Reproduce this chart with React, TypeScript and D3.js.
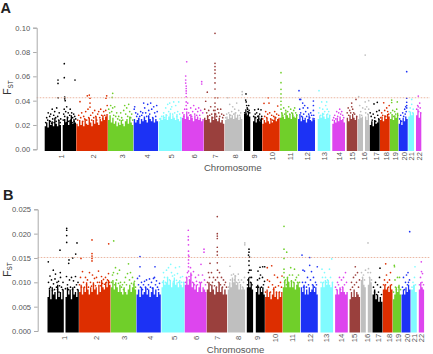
import React, { useEffect, useRef } from 'react';
import * as d3 from 'd3';

// genome position runs 0..377 along the x axis, FST values are stored x1000
const chromNames = ['1','2','3','4','5','6','7','8','9','10','11','12','13','14','15','16','17','18','19','20','21','22'];
const tickPos = [17,48.6,77.3,103,126.6,149.3,170.3,191,209.6,227.6,245.3,262.6,279.3,294.3,307.3,319.6,331.3,341.6,351,359.6,367,374.3];
const palette = ['#000000','#dd2f00','#70cf2c','#1f33f5','#80fbff','#dd45ee','#9a3f3c','#bfbfbf'];

// one entry per contiguous stretch, chr 1, 9 and 16 are split at the centromere
const segChrom = [0,0,1,2,3,4,5,6,7,8,8,9,10,11,12,13,14,15,15,16,17,18,19,20,21];
const segStart = [0,18,31.6,63.3,89,114,137.3,159.3,180.3,199.3,208.3,217.6,235.3,253.3,273,287.6,302,313.3,320.3,325,335.3,345.3,354,363.6,371.3];
const segEnd = [16.3,31.3,63,88.6,113.3,137,159,179.6,197.6,205.6,217.3,235,252.6,270.3,285.6,300.3,312.6,318.3,324.3,335,345,353.6,363,369.3,376.6];

// height of the packed SNP columns along each stretch
const bodyA = [
  [19,22,18,24,20,23,19,26,21,19,24,20],
  [20,25,22,27,20,24,28,21,25,22],
  [21,19,24,20,23,19,25,21,20,26,22,19,24,21,27,22,20,25,23,28,24,27,29],
  [24,28,22,26,21,23,19,22,20,24,21,19,23,25,21,27,22,20],
  [25,22,24,26,21,25,23,27,24,22,28,25,23,26,22,25,23],
  [23,26,24,28,25,29,24,27,30,25,28,26,24,29,25,23,26],
  [26,29,25,31,27,24,29,26,23,28,25,27,24,26,23,25],
  [26,24,28,25,22,27,24,30,25,23,26,22,24,21],
  [24,27,25,29,26,28,25,30,26,28,24,27,25],
  [29,33,28,31,27],
  [23,27,22,25,28,23,26],
  [21,24,22,26,23,21,25,22,24,27,23,25,26],
  [26,30,27,25,31,28,26,29,25,30,27,26,29],
  [25,29,23,27,24,26,22,25,28,24,23,26,24],
  [25,28,26,30,27,25,29,26,28],
  [21,24,22,26,23,27,24,25,22],
  [26,23,28,25,29,26,24,27],
  [25,29,26,27],
  [27,24,29],
  [20,23,19,24,21,22,25],
  [24,27,23,28,25,29,27],
  [25,29,24,28,26,30],
  [21,24,20,26,23,27,25],
  [27,31,28,30],
  [28,33,26,30],
];
const bodyB = [
  [7,8.5,6.5,9,7.5,8,6.5,9.5,7,8,6.5,8.5],
  [7,9,7.5,8.5,6.5,9,7.5,8,7,8.5],
  [8,9.5,7.5,9,8,10,8.5,7.5,9,8,10,8.5,9,7.5,9.5,8,10.5,9,8.5,10,9,10.5,9.5],
  [9,10.5,8.5,10,9,8,9.5,8,7.5,9,8,7.5,8.5,9.5,8,9,10,8.5],
  [7.5,8.5,7,9,7.5,8,9,7.5,8.5,7,8,9,7.5,8.5,7,8,7.5],
  [9,10.5,9.5,10,11,9.5,10.5,9,10,11,9.5,10,9,10.5,9.5,9,10],
  [9.5,11,9.5,10.5,12,9,10,8.5,9.5,8,9,10,8,9,8.5,8],
  [8.5,10,8,9.5,8.5,7.5,9,8,10,8,9,7.5,8.5,7.5],
  [8.5,10,9,11,10,11.5,9.5,10,8.5,9.5,8.5,9,8.5],
  [9,11,9,10,8.5],
  [8,9.5,7.5,9,8,9,7.5],
  [7,8.5,7,8,6.5,7.5,9,7,8,6.5,8,7,8],
  [9,10.5,9,11,10,9,10.5,9,10,8.5,9.5,10,9],
  [9,8,9.5,7.5,8.5,7.5,9,8,8.5,9.5,8,9,7.5],
  [9,10,9,10.5,9.5,10.5,9.5,9,10],
  [7.5,8.5,7.5,9,8,9,8,7.5,8],
  [6.5,8,7,8.5,7,8,7.5,7],
  [10.5,11,9.5,9],
  [9.5,11,10],
  [7.5,8.5,6.5,7.5,6,7,6],
  [8.5,9.5,8.5,9,8,9.5,8.5],
  [6.5,7.5,9,8,9.5,7.5],
  [7.5,8.5,7.5,9,8,9.5,8.5],
  [8.5,9.5,8],
  [8.5,10,9,8.5],
];

const pointsA = [
  [1,22],[2,26],[3,24],[3.5,30],[5,27],[5.5,23],[6,29],[7,21.5],[7.5,33],[8,25],[9,28],[9.5,22],[10,31],[11,26],[11.5,23],[12,34],[13,27],[13.3,57],[13.3,54.2],[13.5,42.4],[14,24],[14.5,30],[15.5,22],[16,25],
  [18.5,24],[19,29],[19.5,33],[19.6,70.4],[19.6,58.9],[20,43],[20,41.5],[20.5,40],[20,27],[21,31],[21.5,22],[22,35],[23,26],[23.5,30],[24,23],[25,28],[25.5,33],[26,24],[27,30],[27.5,22],[28,26],[29,29],[29.5,23],[30,27],[30.3,57],[31,25],
  [33,24],[34,28],[35.3,39.2],[36,26],[37,30],[38,23],[39,27],[40,25],[41,31],[42,24],[42.6,44],[43.3,33],[44,26],[44.6,44.6],[45.3,42],[45.3,38],[45.3,34.7],[46,28],[47,24],[48,30],[49,26],[50,32],[51,27],[52,24],[53,29],[54,31],[55,26],[56,33],[57,28],[58,25],[59,31],[60,28],[61,32],[61.3,42],[62,44],[62.5,36],
  [64,33],[65,30],[66,36],[67,31],[68,46],[68,34],[67.5,42.7],[69,28],[70,35],[71,27],[72,30],[73,25],[74,27],[75,24],[76,30],[77,26],[78,24],[79,32],[80,36],[81,29],[82,34],[83,27],[84,37],[85,31],[86,26],[87,29],[88,24],
  [89.5,33],[90,35],[91,30],[92,27],[93,29],[94,25],[95,27],[96,31],[97,28],[98,30],[99,38],[100,34],[101,30],[102,27],[103,37],[104,32],[105,29],[106,38],[107,33],[108,26],[109,35],[110,30],[111,27],[112,36],[112.5,31],
  [115,25],[117,27],[119,30],[120,26],[121,34],[122,28],[123,37],[124,31],[125,38],[126,33],[127,35],[128,29],[129,39],[130,30],[131,36],[132,27],[133,31],[134,39],[135,29],[136,26],
  [138,30],[139,27],[140,33],[141,60.3],[141,57],[141,54.5],[142,72],[141.5,52],[141.5,50],[141.5,48],[141.5,46],[141.5,43.2],[141.5,39],[141.5,36],[142,33],[143,38],[144,30],[145,28],[146,34],[147,27],[148,31],[149,36],[150,29],[151,33],[152,28],[153,31],[154,34],[155,28],[156,32],[157,55.6],[157,53.7],[158,30],
  [160,33],[161,39.5],[162,30],[162.6,47],[163,27],[164,32],[165,28],[166,35],[167,29],[168,26],[169,32],[170.3,95.4],[170.3,70.7],[170.3,68],[170.3,65.3],[170.3,62.5],[170.3,58.7],[170.3,54.6],[170.3,49.6],[170.3,42.4],[170.3,38],[170.3,35],[170.3,32],[171,29],[172,27],[173,42.4],[173,33],[174,30],[175,27],[176,33],[177,29],[178,26],[179,28],
  [181,26],[182,29],[183,42.4],[184,30],[185,37],[186,28],[187,31],[188,35],[189,29],[190,33],[191,30],[192,38],[193,28],[194,32],[195,28],[196,30],[197.5,47.4],[197.5,45],
  [200,30],[201.3,45.5],[201,40.5],[201.5,39],[202,36],[202.5,34],[203,33],[203,31],[204,36],[204.5,32],[205,30],[201.5,29],[203.5,28],
  [209,27],[210,32.5],[210.5,29],[211,26],[212,30],[213,27],[213.6,33],[214,25],[215,29],[216,24],[216.3,32.5],[217,27],
  [218,25],[219.3,37.8],[220,27],[221,31],[222,26],[223,29],[223.6,42.4],[224.3,38],[225,30],[226,25],[227,28],[228,24],[229,27],[230,31],[231,26],[232,29],[233,35.6],[234,28],
  [236.3,63],[236.3,54.8],[236.3,49.3],[236.3,45.5],[236.3,42.4],[236.3,39.5],[236.3,36.6],[236.3,33],[237,30],[238,28],[239,34],[240,29],[241,32],[242,27],[243,31],[244,35],[245,29],[246,33],[247,30],[248,28],[249,32],[250,34],[251,30],[252,28],
  [254.3,48.2],[255,41],[255,33],[256,41],[256,30],[257,27],[258,38],[258.5,34],[259,29],[260,36],[261,31],[262,27],[263,34],[264,29],[265,26],[266,30],[267,28],[268.7,39.7],[268.7,36],[268.7,32],[269,28],[269.5,25],
  [274,30],[274.3,48.2],[275,34],[276,28],[277,39],[278,33],[279,29],[280,31],[281,36],[282,39],[282.5,33],[283,29],[284,31],[285,28],
  [288,24],[289,26],[290,28],[291,25],[292,31],[293,27],[294,30],[295,33],[296,29],[297,31],[298,28],[299,26],
  [302.5,30],[303.5,34],[304,28],[305,32],[306,30],[307,35],[307,38],[308,33],[309,30],[310,29],[311.3,41],[312,27],
  [314,43.3],[315,36],[316,31],[317,28],[318,34],[320.5,33],[321,30],[322,35],[323,29],[324,40],[324,33],[320.5,77.5],[320.5,39],
  [325.5,30],[326.5,27],[327.5,24],[328.5,29],[329.3,37.3],[330,26],[331,23],[332,31],[332.6,38.6],[333,28],[334,25],[334.5,32],
  [336,26],[337,30],[338,28],[339,38.3],[340,32],[341,27],[342,34],[343,31],[344,29],[344.5,36],
  [346,30],[347,40.5],[347,38.5],[348,32],[349,27],[350,31],[351,29],[352,33],[352.6,39],[353,28],
  [355,25],[356,28],[357,23],[358,30],[359,27],[360,33],[360.5,29],[361,35],[361.5,31],[362,63.8],[362,42],[362,38.7],[362,36],[362,34],
  [364.5,31],[365.5,34],[367,41],[367,37],[368,30],[368.5,33],
  [372,33],[373,36],[373.6,43.8],[373.6,35],[374,31],[375,38],[375.5,34],[376,30],
];

const pointsB = [
  [0.8,14.2],[1,10],[2,8.7],[2.5,11.3],[3,9],[4,10.5],[5,8.3],[5.8,12.5],[6,9.7],[7,8.5],[7.5,10.7],[8,11.7],[9,9],[9.5,10],[10,8.5],[11,10.2],[11.5,8],[12,9.3],[12.5,16.6],[12.8,12],[13,11],[14,9],[15,8.5],[15.5,10],
  [18,8.7],[19,11.2],[19.2,21.1],[19.2,20.7],[19.2,19.6],[19.2,18.2],[20,9.5],[21,8.5],[21.5,14.6],[21.2,13.9],[22,10.5],[23,9],[24,11],[25,8.5],[25.2,15],[26,10.3],[27,9],[28,11.2],[28.2,15.8],[29,9.5],[29.5,18.1],[30,8.5],[30.5,10],
  [32,9.5],[33,11],[33.5,14.9],[34,9],[35,12.2],[36,10],[37,9],[38,11],[39,9.5],[40,10.5],[41,9],[42,12],[43,10],[44,9.2],[44.5,18.7],[44.5,15.9],[44.5,15.4],[44.5,14.9],[44.5,14.4],[45,11.5],[46,9.5],[47,10.8],[48,9.3],[49,11],[50,10],[51,12.3],[52,10],[53,9.3],[54,11.2],[55,9.8],[56,10.6],[57,9.6],[58,11],[59,10],[60,10.5],[61.2,17.9],[61,11.8],[62,10],
  [64,10],[65,11.5],[66.2,18.5],[66,12],[67,9.5],[68,13],[69,10.5],[70,11.8],[71,9.8],[72,12.5],[73,10],[74,9],[75,9.5],[76,8.5],[77,10],[78,11],[79,9.5],[80,11.8],[81,13.8],[82,10.5],[83,12],[84,9.8],[85,11],[86,9.5],[87,10.2],[88,9],
  [90,10.8],[91,9.5],[92,11.3],[92.5,15.3],[92.5,13.2],[93,9],[94,10],[95,8.5],[96,9.5],[97,10.2],[98,9],[99,10.5],[100,8.6],[101,9.5],[102,10.7],[103,9],[104,10],[105,8.8],[106,10.8],[107.5,13.2],[107,11],[108,9.5],[109,10.3],[110,9],[111,8.5],[112,9.8],
  [115,10],[116,12],[117,11],[118,10],[119,12.5],[120,11],[121,13],[122,10.5],[123.2,13.7],[124,12],[125,11.3],[126,10.2],[127,11.5],[128,13],[129,10.4],[130,11.8],[131,10],[132,13.2],[133,11],[134,10],[135,11.2],[136,10],
  [138,10],[139,11],[140,12],[140.8,20.7],[140.8,19.4],[140.8,18.7],[141,17.7],[141,16.4],[141,15.6],[141.5,15.3],[141,14.6],[141,13.9],[141,13.2],[141,12.3],[141.5,11.2],[142,10.5],[143,13],[144,11.5],[145,10],[146,12.2],[147,9.5],[148,11],[149,10.2],[150,9.5],[151,11.5],[152,10],[153.5,13.7],[154,10],[155,11.5],[156.5,16.8],[156.5,16.2],[157,10.5],[158,9.5],
  [160,10],[161,12],[162,11],[162.5,13.9],[163,9.5],[164,12],[165,10],[166,11],[167,9.3],[168,10.5],[169,9],[169.8,23.5],[169.8,20],[169.8,19.5],[169.8,19],[169.8,17.2],[169.8,16.3],[169.8,15.6],[169.8,14],[170,12.5],[170,11],[171,10],[172,12],[173,9.5],[174,11],[175,9],[176,10.5],[177,9.5],[178,10],[179,9],
  [181,9],[182.5,13.3],[183,10.5],[184,11.5],[185,9.7],[186,11.7],[187,10.5],[188,11.3],[189,10],[190.8,11.7],[191,10.5],[192,10],[193,9.5],[194,10.5],[195,9],[196,10],[197,11],[197.3,18.1],[197.3,17.7],
  [200,9.5],[201,12],[201.5,16.8],[201.5,16.2],[201,15.6],[202,15.2],[201.5,14.4],[201.5,13.5],[202,12.5],[202.5,11],[203,10],[204,11],[204.5,9.5],[203.5,12.5],[200.5,10.5],
  [209,9],[210,10.5],[210.5,12.3],[211,9],[212,10.8],[212.5,13.1],[213,11.5],[214,9],[215.2,13.2],[215,11],[216,9.5],[217,10.2],[217.2,13.2],
  [218,8],[219.8,13],[220,10.5],[221,9],[222,10.2],[223,8],[224.2,13.4],[225,9.5],[226,8.5],[227,11.5],[228,9],[229,8],[230,11],[231,9.3],[232,8],[233,10],[234,9],[234.5,11.3],
  [236.5,21.5],[236.5,16.8],[239.2,16.2],[236.5,14.9],[236.5,12.7],[236.5,12],[236.5,11],[237,10],[238,10.5],[239,9.5],[240,11],[241,10],[242,11.5],[243.2,13],[244,10.2],[245,11.5],[246,10],[247,12.7],[248,10.5],[249,11],[250,10],[251,11.5],[252,10],
  [254.5,15.6],[255,10],[255.5,12.5],[256,9],[257,12.3],[258,10],[259,9],[260,11],[261,9.5],[262.2,15.1],[262.2,13.5],[263,10.5],[264,12.2],[265,9.5],[266,11],[267,9],[268,10],[269.8,13.2],[269,9.5],
  [273.5,10],[274.5,12.7],[275,11],[276,10],[277,12],[278,11],[279,10],[280,10.5],[281,10],[282,12.7],[283,11],[284.2,14.8],[285,10],
  [288,9],[289,8.5],[290,10],[291,9.5],[292,11],[293,8.5],[294,10.5],[295,9],[296,11],[297,9.5],[298,12],[299,10],
  [303,8.5],[304,10],[305,9],[306,11],[307,9.5],[307.8,13.2],[308,11.5],[309,10],[310,12],[311,9],[312,10.5],
  [314,12],[315,11],[316,11.5],[317,10.5],[318,12.5],[320.5,18.1],[320.5,12],[321,12.8],[322,11],[323,12],[324,10.5],
  [326,9],[327,8],[328,10],[329,7.5],[330,9.5],[331,8],[332.5,12.9],[332,11],[333,9],[334,7.5],
  [336,9.5],[337,10.5],[338.2,13.8],[338,9.5],[339,11.5],[340,10],[341,9],[342,10.5],[343,12],[344,9.5],
  [346,8],[346.8,13.5],[347,13.2],[347.5,10.5],[348,9],[349,8.5],[350,11],[351,9],[352,11],[353,8.5],
  [355,9],[356,11],[357,8.5],[358,10],[359,11.5],[360,9.5],[360.5,12],[361,10],[362.2,20.4],[362,10.5],
  [364.5,9],[365.5,10],[367.5,13.2],[367,11],[368,9.5],
  [372,9.5],[373,11],[373.8,14.2],[374,12.2],[375,11.8],[374.5,10],[376,9.5],
];

const ticksA = [0,20,40,60,80,100];
const ticksB = [0,5,10,15,20,25];
const thresholdA = 42.4;
const thresholdB = 15.1;

const FONT = '"Liberation Sans", Arial, sans-serif';

function drawPanel(root, o) {
  const x = d3.scaleLinear().domain([0, 377]).range([o.left, o.left + 377]);
  const y = d3.scaleLinear().domain([0, o.yMax]).range([o.bottom, o.top]);
  const colorAt = pos => palette[segChrom[Math.max(0, d3.bisectRight(segStart, pos) - 1)] % palette.length];

  const g = root.append('g');
  const marks = g.append('g').attr('filter', 'url(#soft)');

  // solid part of each chromosome, too dense to see single SNPs
  const area = d3.area().curve(d3.curveStepAfter)
    .x(d => x(d[0])).y0(o.bottom + 1.6).y1(d => y(d[1]));
  o.body.forEach((levels, i) => {
    const step = (segEnd[i] - segStart[i]) / levels.length;
    const rows = levels.map((v, k) => [segStart[i] + k * step, v]);
    rows.push([segEnd[i], levels[levels.length - 1]]);
    marks.append('path').attr('d', area(rows)).attr('fill', palette[segChrom[i] % palette.length]);
  });

  marks.selectAll('circle.snp').data(o.points).enter().append('circle')
    .attr('class', 'snp')
    .attr('cx', d => x(d[0])).attr('cy', d => y(d[1])).attr('r', 0.85)
    .attr('fill', d => colorAt(d[0]));

  g.append('line')
    .attr('x1', o.axisX).attr('x2', 430)
    .attr('y1', y(o.threshold)).attr('y2', y(o.threshold))
    .attr('stroke', '#e6a58c').attr('stroke-width', 0.8).attr('stroke-dasharray', '1.6 1.4');

  const axis = d3.axisLeft(y).tickValues(o.ticks).tickSize(3.6).tickPadding(3)
    .tickFormat(v => d3.format(o.fmt)(v / 1000));
  const ax = g.append('g').attr('transform', `translate(${o.axisX},0)`).call(axis);
  ax.selectAll('path,line').attr('stroke', '#aaaaaa').attr('stroke-width', 1);
  ax.selectAll('text').attr('fill', '#555555').style('font', `7.6px ${FONT}`);

  g.selectAll('text.chrom').data(chromNames).enter().append('text')
    .attr('class', 'chrom')
    .attr('transform', (d, i) => `translate(${x(tickPos[i]) + 2.6},${o.bottom + 7}) rotate(-90)`)
    .attr('text-anchor', 'middle')
    .attr('fill', '#555555')
    .style('font', `7.6px ${FONT}`)
    .text(d => d);

  g.append('text')
    .attr('x', o.left + 188).attr('y', o.bottom + 21.5)
    .attr('text-anchor', 'middle').attr('fill', '#555555')
    .style('font', `9.6px ${FONT}`).text('Chromosome');

  const fst = g.append('text')
    .attr('transform', `translate(${o.fstX},${o.fstY}) rotate(-90)`)
    .attr('fill', '#333333').style('font', `10.8px ${FONT}`);
  fst.append('tspan').text('F');
  fst.append('tspan').attr('dy', 1.8).style('font-size', '6.4px').text('ST');

  g.append('text')
    .attr('x', o.tagX).attr('y', o.tagY)
    .attr('fill', '#222222').style('font', `bold 14.5px ${FONT}`).text(o.tag);
}

export default function App() {
  const ref = useRef(null);

  useEffect(() => {
    const root = d3.select(ref.current);
    root.selectAll('*').remove();
    root.append('defs').append('filter').attr('id', 'soft')
      .attr('x', 0).attr('y', 0).attr('width', 1).attr('height', 1)
      .append('feGaussianBlur').attr('stdDeviation', 0.3);
    drawPanel(root, {
      tag: 'A', tagX: 0.5, tagY: 13.2, left: 44.7, top: 27.7, bottom: 149.3, yMax: 100,
      axisX: 36.7, body: bodyA, points: pointsA, ticks: ticksA, threshold: thresholdA,
      fmt: '.2f', fstX: 11, fstY: 95,
    });
    drawPanel(root, {
      tag: 'B', tagX: 3, tagY: 199.5, left: 47.5, top: 209.3, bottom: 331, yMax: 25,
      axisX: 37.7, body: bodyB, points: pointsB, ticks: ticksB, threshold: thresholdB,
      fmt: '.3f', fstX: 10.5, fstY: 277,
    });
  }, []);

  return (
    <svg ref={ref} width={433} height={354}
      style={{ position: 'absolute', left: 0, top: 0, background: '#fff' }} />
  );
}
